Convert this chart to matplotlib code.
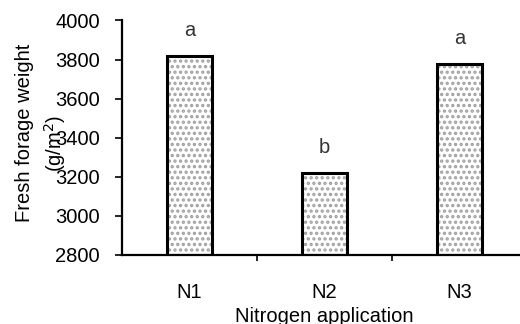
import matplotlib.pyplot as plt
import numpy as np

plt.rcParams['font.family'] = ['Liberation Sans', 'DejaVu Sans']
plt.rcParams['hatch.linewidth'] = 1.6
plt.rcParams['hatch.color'] = '#999999'

treatments = ['N1', 'N2', 'N3']
weight = [3818, 3217, 3775]
letters = ['a', 'b', 'a']

fig = plt.figure(figsize=(5.2, 3.24), dpi=100)
ax = fig.add_axes([0.2346, 0.213, 0.779, 0.7238])

x = np.arange(len(treatments))
# dotted fill first, black outline on top
ax.bar(x, np.array(weight) - 2800, bottom=2800, width=0.33, color='white',
       hatch='...', edgecolor='#a0a0a0', linewidth=0)
ax.bar(x, np.array(weight) - 2800, bottom=2800, width=0.33, fill=False,
       edgecolor='black', linewidth=2.2)

for xi, w, l in zip(x, weight, letters):
    ax.text(xi, w + 82, l, ha='center', va='bottom', fontsize=14.5, color='#333333')

ax.set_xlim(-0.5, 2.5)
ax.set_ylim(2800, 4000)
ax.set_yticks(np.arange(2800, 4001, 200))
ax.tick_params(axis='y', labelsize=14.5, length=5, width=1.2, pad=11)

ax.set_xticks(x)
ax.set_xticklabels(treatments, fontsize=14.5)
ax.tick_params(axis='x', length=0, pad=20)
ax.set_xticks([0.5, 1.5], minor=True)
ax.tick_params(axis='x', which='minor', length=4, width=1.2, direction='out')

for s in ['top', 'right']:
    ax.spines[s].set_visible(False)
for s in ['left', 'bottom']:
    ax.spines[s].set_linewidth(1.6)

# y label is two lines that sit over the tick labels
fig.text(25 / 520, 1 - 133 / 324, 'Fresh forage weight', rotation=90,
         ha='center', va='center', fontsize=14.5)
fig.text(55 / 520, 1 - 143 / 324, '(g/m$^2$)', rotation=90,
         ha='center', va='center', fontsize=14.5)
ax.set_xlabel('Nitrogen application', fontsize=14.5, labelpad=4)

fig.savefig('out.png', dpi=100)
